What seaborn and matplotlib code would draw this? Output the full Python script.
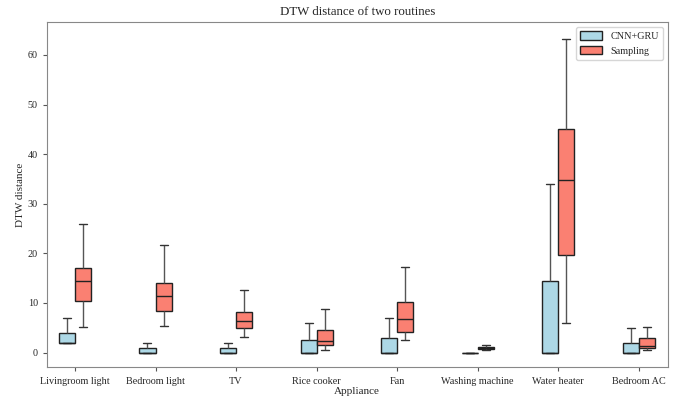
import pandas as pd
import matplotlib.pyplot as plt
import seaborn as sns

# Appliances on the x axis
appliances = ['Livingroom light', 'Bedroom light', 'TV', 'Rice cooker',
              'Fan', 'Washing machine', 'Water heater', 'Bedroom AC']

# Each box as [low whisker, q1, median, q3, high whisker]
cnn_gru = [
    [2, 2, 2, 4, 7],
    [0, 0, 0, 1, 2],
    [0, 0, 0, 1, 2],
    [0, 0, 0, 2.5, 6],
    [0, 0, 0, 3, 7],
    [0, 0, 0, 0, 0],
    [0, 0, 0, 14.5, 34],
    [0, 0, 0, 2, 5],
]
sampling = [
    [5.1, 10.4, 14.4, 17.1, 26.0],
    [5.3, 8.4, 11.5, 14.0, 21.6],
    [3.1, 5.0, 6.4, 8.2, 12.6],
    [0.5, 1.6, 2.3, 4.6, 8.8],
    [2.6, 4.2, 6.8, 10.1, 17.2],
    [0.6, 0.75, 0.9, 1.1, 1.5],
    [5.9, 19.7, 34.8, 45.0, 63.3],
    [0.5, 0.95, 1.4, 2.95, 5.2],
]
methods = ['CNN+GRU', 'Sampling']
colors = ['#ADD8E6', '#FA8072']


def build_frame():
    rows = []
    for method, boxes in zip(methods, [cnn_gru, sampling]):
        for name, vals in zip(appliances, boxes):
            for v in vals:
                rows.append({'Appliance': name, 'Method': method, 'DTW distance': v})
    return pd.DataFrame(rows)


def main():
    sns.set_style('ticks')
    plt.rcParams['font.family'] = ['Liberation Serif', 'DejaVu Serif']

    df = build_frame()
    fig, ax = plt.subplots(figsize=(6.78, 3.96), dpi=100)
    sns.boxplot(data=df, x='Appliance', y='DTW distance', hue='Method',
                palette=colors, saturation=1, width=0.4, gap=0, whis=(0, 100),
                linecolor='#222222', linewidth=1, ax=ax,
                whiskerprops={'color': '#555555'},
                capprops={'color': '#333333'})

    ax.set_title('DTW distance of two routines', fontsize=9.3, pad=5)
    ax.set_xlabel('Appliance', fontsize=8, labelpad=1)
    ax.set_ylabel('DTW distance', fontsize=8, labelpad=2)
    ax.tick_params(labelsize=7.3, length=3, color='#555555')
    ax.set_ylim(-3.0, 66.6)
    ax.set_xlim(-0.35, 7.36)
    for s in ax.spines.values():
        s.set_color('#888888')
    ax.legend(title=None, loc='upper right', fontsize=7.3, frameon=True,
              handlelength=2.2, handleheight=0.9)

    fig.subplots_adjust(left=0.069, right=0.985, top=0.944, bottom=0.072)
    fig.savefig('out.png', dpi=100)


if __name__ == '__main__':
    main()
